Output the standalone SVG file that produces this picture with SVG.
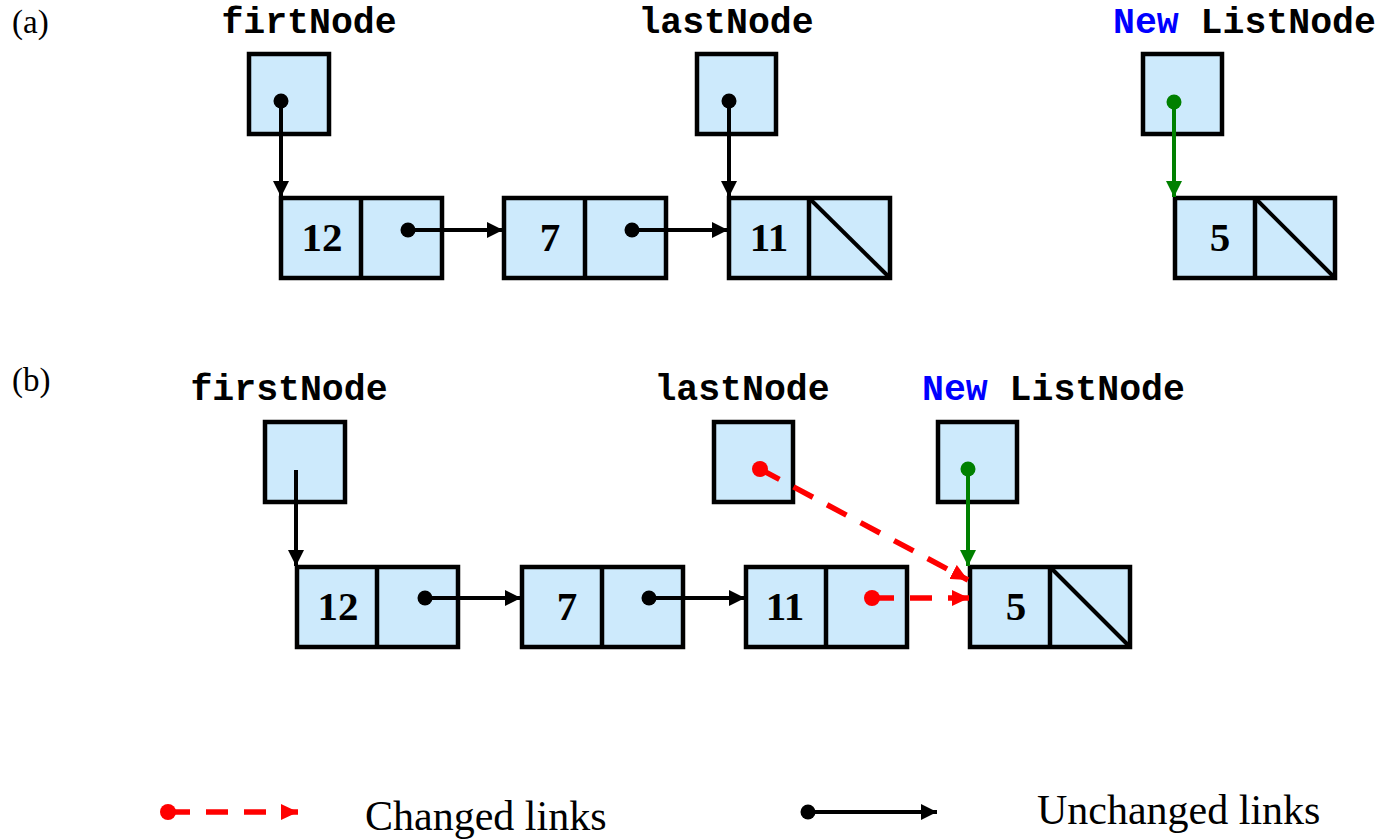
<svg xmlns="http://www.w3.org/2000/svg" width="1386" height="840" viewBox="0 0 1386 840">
  <style>
    .cell { fill: #cdeafc; stroke: #000; stroke-width: 4.5; }
    .div { stroke: #000; stroke-width: 4.5; fill: none; }
    .diag { stroke: #000; stroke-width: 4; fill: none; }
    .num { font-family: "Liberation Serif", "Times New Roman", serif; font-weight: bold; font-size: 41px; text-anchor: middle; fill: #000; }
    .var { font-family: "Liberation Mono", "Courier New", monospace; font-weight: bold; font-size: 36.5px; fill: #000; }
    .kw { fill: #0000ff; }
    .tag { font-family: "Liberation Serif", "Times New Roman", serif; font-size: 33px; fill: #000; }
    .legend { font-family: "Liberation Serif", "Times New Roman", serif; font-size: 42px; fill: #000; }
    .link { stroke: #000; stroke-width: 4; fill: none; marker-end: url(#arrowK); }
    .glink { stroke: #008000; stroke-width: 4; fill: none; marker-end: url(#arrowG); }
    .rlink { stroke: #ff0000; stroke-width: 5.5; fill: none; stroke-dasharray: 22 16; marker-end: url(#arrowR); }
  </style>
  <defs>
    <marker id="arrowK" markerUnits="userSpaceOnUse" markerWidth="17" markerHeight="16" refX="16" refY="8" orient="auto">
      <path d="M0,0 L16,8 L0,16 z" fill="#000"/>
    </marker>
    <marker id="arrowG" markerUnits="userSpaceOnUse" markerWidth="17" markerHeight="16" refX="16" refY="8" orient="auto">
      <path d="M0,0 L16,8 L0,16 z" fill="#008000"/>
    </marker>
    <marker id="arrowR" markerUnits="userSpaceOnUse" markerWidth="18" markerHeight="16" refX="17" refY="8" orient="auto">
      <path d="M0,0 L17,8 L0,16 z" fill="#ff0000"/>
    </marker>
  </defs>

  <rect width="1386" height="840" fill="#fff"/>

  <!-- panel labels -->
  <text class="tag" x="12" y="33">(a)</text>
  <text class="tag" x="12" y="391">(b)</text>

  <!-- (a) variable labels -->
  <text class="var" x="309" y="33" text-anchor="middle">firtNode</text>
  <text class="var" x="726" y="33" text-anchor="middle">lastNode</text>
  <text class="var" x="1113" y="33"><tspan class="kw">New</tspan> ListNode</text>

  <!-- (a) pointer boxes -->
  <g id="a-firtNode"><rect class="cell" x="249" y="54" width="80" height="80"/></g>
  <g id="a-lastNode"><rect class="cell" x="697" y="54" width="79" height="80"/></g>
  <g id="a-newNode"><rect class="cell" x="1143" y="54" width="79" height="80"/></g>

  <!-- (a) list nodes -->
  <g id="a-node12">
    <rect class="cell" x="281" y="198" width="161" height="80"/>
    <line class="div" x1="361" y1="198" x2="361" y2="278"/>
    <text class="num" x="322" y="251">12</text>
  </g>
  <g id="a-node7">
    <rect class="cell" x="504" y="198" width="162" height="80"/>
    <line class="div" x1="585" y1="198" x2="585" y2="278"/>
    <text class="num" x="550" y="251">7</text>
  </g>
  <g id="a-node11">
    <rect class="cell" x="729" y="198" width="161" height="80"/>
    <line class="div" x1="809" y1="198" x2="809" y2="278"/>
    <line class="diag" x1="809" y1="198" x2="890" y2="278"/>
    <text class="num" x="769" y="251">11</text>
  </g>
  <g id="a-node5">
    <rect class="cell" x="1175" y="198" width="160" height="80"/>
    <line class="div" x1="1255" y1="198" x2="1255" y2="278"/>
    <line class="diag" x1="1255" y1="198" x2="1335" y2="278"/>
    <text class="num" x="1220" y="251">5</text>
  </g>

  <!-- (b) variable labels -->
  <text class="var" x="289" y="400" text-anchor="middle">firstNode</text>
  <text class="var" x="742" y="400" text-anchor="middle">lastNode</text>
  <text class="var" x="922" y="400"><tspan class="kw">New</tspan> ListNode</text>

  <!-- (b) pointer boxes -->
  <g id="b-firstNode"><rect class="cell" x="265" y="422" width="80" height="80"/></g>
  <g id="b-lastNode"><rect class="cell" x="714" y="422" width="79" height="80"/></g>
  <g id="b-newNode"><rect class="cell" x="938" y="422" width="79" height="80"/></g>

  <!-- (b) list nodes -->
  <g id="b-node12">
    <rect class="cell" x="297" y="567" width="161" height="80"/>
    <line class="div" x1="377" y1="567" x2="377" y2="647"/>
    <text class="num" x="338" y="620">12</text>
  </g>
  <g id="b-node7">
    <rect class="cell" x="522" y="567" width="161" height="80"/>
    <line class="div" x1="602" y1="567" x2="602" y2="647"/>
    <text class="num" x="567" y="620">7</text>
  </g>
  <g id="b-node11">
    <rect class="cell" x="746" y="567" width="161" height="80"/>
    <line class="div" x1="826" y1="567" x2="826" y2="647"/>
    <text class="num" x="785" y="620">11</text>
  </g>
  <g id="b-node5">
    <rect class="cell" x="970" y="567" width="160" height="80"/>
    <line class="div" x1="1050" y1="567" x2="1050" y2="647"/>
    <line class="diag" x1="1050" y1="567" x2="1130" y2="647"/>
    <text class="num" x="1016" y="620">5</text>
  </g>

  <!-- links -->
  <g id="connectors">
    <!-- (a) -->
    <line class="link" x1="281" y1="101" x2="281" y2="197"/>
    <circle cx="281" cy="101" r="7.5"/>
    <line class="link" x1="408" y1="230" x2="503" y2="230"/>
    <circle cx="408" cy="230" r="7.5"/>
    <line class="link" x1="632" y1="230" x2="728" y2="230"/>
    <circle cx="632" cy="230" r="7.5"/>
    <line class="link" x1="729" y1="101" x2="729" y2="197"/>
    <circle cx="729" cy="101" r="7.5"/>
    <line class="glink" x1="1174" y1="102" x2="1174" y2="197"/>
    <circle cx="1174" cy="102" r="7.5" fill="#008000"/>

    <!-- (b) -->
    <line class="link" x1="296" y1="470" x2="296" y2="566"/>
    <line class="link" x1="425" y1="598" x2="521" y2="598"/>
    <circle cx="425" cy="598" r="7.5"/>
    <line class="link" x1="649" y1="598" x2="745" y2="598"/>
    <circle cx="649" cy="598" r="7.5"/>
    <line class="glink" x1="968" y1="469" x2="968" y2="566"/>
    <circle cx="968" cy="469" r="7.5" fill="#008000"/>
    <line class="rlink" x1="872" y1="598" x2="969" y2="598"/>
    <circle cx="872" cy="598" r="8" fill="#ff0000"/>
    <line class="rlink" x1="760" y1="469" x2="968" y2="580"/>
    <circle cx="760" cy="469" r="8" fill="#ff0000"/>
  </g>

  <!-- legend -->
  <g id="legend">
    <line class="rlink" x1="168" y1="812" x2="298" y2="812"/>
    <circle cx="168" cy="812" r="8" fill="#ff0000"/>
    <text class="legend" x="365" y="830">Changed links</text>
    <line class="link" x1="808" y1="812" x2="937" y2="812"/>
    <circle cx="808" cy="812" r="7.5"/>
    <text class="legend" x="1037" y="824">Unchanged links</text>
  </g>
</svg>
